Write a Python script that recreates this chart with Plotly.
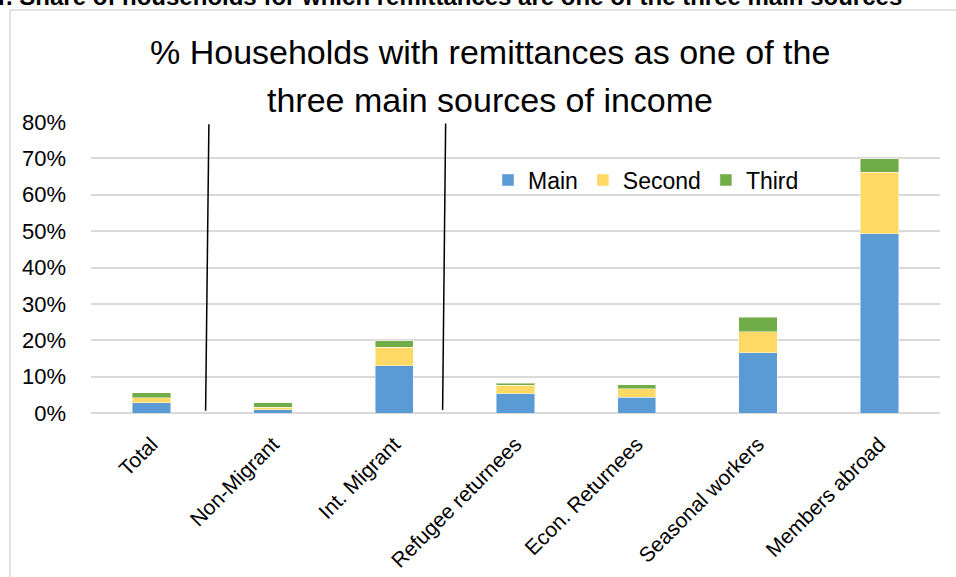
import plotly.graph_objects as go

categories = ["Total", "Non-Migrant", "Int. Migrant", "Refugee returnees",
              "Econ. Returnees", "Seasonal workers", "Members abroad"]
main_vals = [2.8, 0.9, 13.0, 5.3, 4.3, 16.5, 49.3]
second_vals = [1.4, 0.7, 5.1, 2.3, 2.4, 5.9, 16.9]
third_vals = [1.3, 1.2, 1.7, 0.6, 1.0, 3.9, 3.7]
series_names = ["Main", "Second", "Third"]
series_colors = ["#5B9BD5", "#FFD966", "#70AD47"]
y_ticks = [0, 10, 20, 30, 40, 50, 60, 70, 80]
y_tick_labels = [f"{v}%" for v in y_ticks]
title_lines = ["% Households with remittances as one of the",
               "three main sources of income"]
top_caption = "r. Share of households for which remittances are one of the three main sources"
# separator lines between groups (category index units, percent units)
separators = [((0.472, 79.4), (0.445, 0.6)), ((2.424, 79.6), (2.399, 0.8))]

W, H = 956, 577
L, R, T, B = 91, 16, 122, 164
pw, ph = W - L - R, H - T - B

def px_x(p):
    return (p - L) / pw

def px_y(p):
    return (H - B - p) / ph

FONT = "Liberation Sans"

fig = go.Figure()
for name, vals, col in zip(series_names, [main_vals, second_vals, third_vals], series_colors):
    fig.add_trace(go.Bar(
        x=categories, y=vals, name=name,
        marker=dict(color=col, line=dict(color="rgba(255,255,255,0.45)", width=1)),
    ))

shapes = []
for (x0, y0), (x1, y1) in separators:
    shapes.append(dict(type="line", xref="x", yref="y", x0=x0, y0=y0, x1=x1, y1=y1,
                       line=dict(color="black", width=1.5)))
# outer chart border (extends beyond the visible page on right/bottom)
shapes.append(dict(type="rect", xref="paper", yref="paper",
                   x0=px_x(10), y0=px_y(600), x1=px_x(1000), y1=px_y(10),
                   line=dict(color="#d9d9d9", width=1.5), layer="below"))

annotations = [
    dict(text=title_lines[0], xref="paper", yref="paper", x=px_x(490), y=px_y(52),
         xanchor="center", yanchor="middle", showarrow=False,
         font=dict(family=FONT, size=34, color="black")),
    dict(text=title_lines[1], xref="paper", yref="paper", x=px_x(490), y=px_y(100),
         xanchor="center", yanchor="middle", showarrow=False,
         font=dict(family=FONT, size=34, color="black")),
    dict(text="<b>" + top_caption + "</b>", xref="paper", yref="paper", x=px_x(-4), y=px_y(12),
         xanchor="left", yanchor="bottom", showarrow=False,
         font=dict(family=FONT, size=24, color="black")),
]

fig.update_layout(
    width=W, height=H,
    margin=dict(l=L, r=R, t=T, b=B, autoexpand=False),
    barmode="stack", bargap=0.684,
    plot_bgcolor="white", paper_bgcolor="white",
    shapes=shapes, annotations=annotations,
    legend=dict(orientation="h", x=px_x(488), y=px_y(180), xanchor="left", yanchor="middle",
                font=dict(family=FONT, size=23, color="black"), bgcolor="rgba(0,0,0,0)",
                traceorder="normal"),
    showlegend=True,
)
fig.update_yaxes(range=[0, 80], tickvals=y_ticks, ticktext=y_tick_labels,
                 showgrid=True, gridcolor="#d9d9d9", gridwidth=1.5,
                 zeroline=True, zerolinecolor="#d9d9d9", zerolinewidth=1.5,
                 showline=False, ticks="", ticklabelstandoff=24,
                 tickfont=dict(family=FONT, size=22, color="black"))
fig.update_xaxes(tickangle=-45, showgrid=False, showline=False, ticks="",
                 ticklabelstandoff=14,
                 tickfont=dict(family=FONT, size=21, color="black"))

fig.write_html("out.html")
